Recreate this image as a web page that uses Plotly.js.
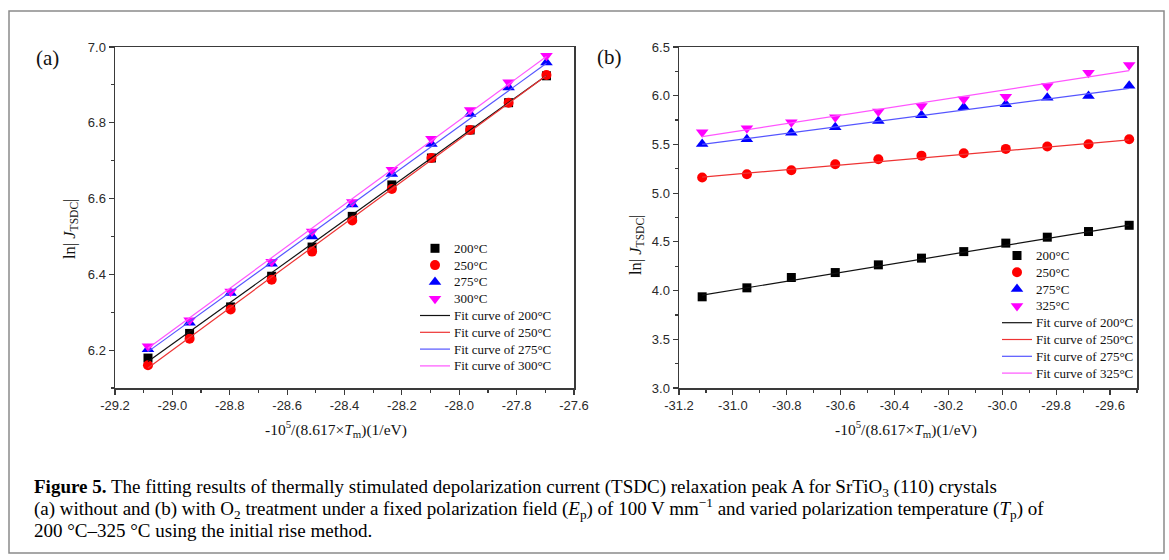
<!DOCTYPE html>
<html>
<head>
<meta charset="utf-8">
<script src="https://cdn.plot.ly/plotly-3.0.1.min.js"></script>
<style>html,body{margin:0;padding:0;background:#fff;}#chart{width:1169px;height:560px;}</style>
</head>
<body>
<div id="chart"></div>
<script>
// Panel (a): without O2 treatment
const xA = [-29.085, -28.940, -28.797, -28.654, -28.513, -28.373, -28.235, -28.097, -27.962, -27.828, -27.696];
const yA200 = [6.179, 6.244, 6.314, 6.395, 6.472, 6.553, 6.636, 6.707, 6.781, 6.853, 6.924];
const yA250 = [6.160, 6.230, 6.307, 6.386, 6.460, 6.542, 6.625, 6.707, 6.781, 6.853, 6.926];
const yA275 = [6.202, 6.272, 6.351, 6.428, 6.500, 6.584, 6.665, 6.744, 6.823, 6.893, 6.959];
const yA300 = [6.210, 6.279, 6.355, 6.433, 6.513, 6.591, 6.676, 6.758, 6.834, 6.907, 6.977];
const fitXA = [-29.085, -27.696];
const fitA200 = [6.170, 6.925];
const fitA250 = [6.153, 6.925];
const fitA275 = [6.196, 6.957];
const fitA300 = [6.205, 6.975];
const labelsA = ['200°C', '250°C', '275°C', '300°C'];

// Panel (b): with O2 treatment
const xB = [-31.114, -30.948, -30.783, -30.620, -30.460, -30.300, -30.143, -29.987, -29.833, -29.680, -29.529];
const yB200 = [3.936, 4.028, 4.134, 4.185, 4.264, 4.333, 4.400, 4.487, 4.548, 4.606, 4.670];
const yB250 = [5.160, 5.194, 5.235, 5.297, 5.348, 5.385, 5.410, 5.454, 5.478, 5.502, 5.553];
const yB275 = [5.505, 5.553, 5.621, 5.676, 5.741, 5.799, 5.882, 5.912, 5.980, 5.997, 6.103];
const yB325 = [5.625, 5.666, 5.728, 5.779, 5.837, 5.895, 5.964, 5.990, 6.100, 6.236, 6.315];
const fitXB = [-31.114, -29.529];
const fitB200 = [3.953, 4.672];
const fitB250 = [5.165, 5.546];
const fitB275 = [5.500, 6.076];
const fitB325 = [5.580, 6.257];
const labelsB = ['200°C', '250°C', '275°C', '325°C'];

// Tick labels
const xTickValsA = [-29.2, -29.0, -28.8, -28.6, -28.4, -28.2, -28.0, -27.8, -27.6];
const xTickTextA = ['-29.2', '-29.0', '-28.8', '-28.6', '-28.4', '-28.2', '-28.0', '-27.8', '-27.6'];
const yTickValsA = [6.2, 6.4, 6.6, 6.8, 7.0];
const yTickTextA = ['6.2', '6.4', '6.6', '6.8', '7.0'];
const xTickValsB = [-31.2, -31.0, -30.8, -30.6, -30.4, -30.2, -30.0, -29.8, -29.6];
const xTickTextB = ['-31.2', '-31.0', '-30.8', '-30.6', '-30.4', '-30.2', '-30.0', '-29.8', '-29.6'];
const yTickValsB = [3.0, 3.5, 4.0, 4.5, 5.0, 5.5, 6.0, 6.5];
const yTickTextB = ['3.0', '3.5', '4.0', '4.5', '5.0', '5.5', '6.0', '6.5'];

const W = 1169, H = 560;
const px = v => v / W;
const py = v => 1 - v / H;

const markerColors = ['#000000', '#ff0000', '#0000ff', '#ff00ff'];
const lineColors = ['#111111', '#ee3333', '#5555ff', '#ff55ff'];
const symbols = ['square', 'circle', 'triangle-up', 'triangle-down'];
const msizes = [9, 10, 11, 11];

function panel(xs, ys, fitX, fits, labels, xa, ya) {
  const out = [];
  ys.forEach((y, i) => {
    out.push({x: xs, y: y, type: 'scatter', mode: 'markers', name: labels[i],
      xaxis: xa, yaxis: ya, showlegend: false,
      marker: {symbol: symbols[i], color: markerColors[i], size: msizes[i], line: {width: 0}}});
  });
  fits.forEach((f, i) => {
    out.push({x: fitX, y: f, type: 'scatter', mode: 'lines', name: 'Fit curve of ' + labels[i],
      xaxis: xa, yaxis: ya, showlegend: false,
      line: {color: lineColors[i], width: 1.2}});
  });
  return out;
}

const data = [].concat(
  panel(xA, [yA200, yA250, yA275, yA300], fitXA, [fitA200, fitA250, fitA275, fitA300], labelsA, 'x', 'y'),
  panel(xB, [yB200, yB250, yB275, yB325], fitXB, [fitB200, fitB250, fitB275, fitB325], labelsB, 'x2', 'y2')
);

const tickFont = {family: 'Liberation Sans, Arial, sans-serif', size: 13, color: '#2a2a2a'};
function axis(extra) {
  return Object.assign({
    showgrid: false, zeroline: false, showline: true, mirror: true,
    linecolor: '#3a3a3a', linewidth: 1.5,
    ticks: 'outside', ticklen: 5, tickwidth: 1.2, tickcolor: '#3a3a3a',
    tickfont: tickFont, tickmode: 'array', fixedrange: true
  }, extra);
}

const yDom = [py(388), py(47)];
const serif = 'Liberation Serif, Times New Roman, serif';
const legFont = {family: serif, size: 13, color: '#111'};
const capFont = {family: serif, size: 19, color: '#000'};

// Hand-built legend (compact row spacing like the reference)
const shapes = [
  {type: 'rect', xref: 'paper', yref: 'paper', x0: px(9), x1: px(1164), y0: py(553), y1: py(11),
    line: {color: '#8a8a8a', width: 1.5}, fillcolor: 'rgba(0,0,0,0)'}
];
const annotations = [];

function symbolShape(kind, cx, cy, color) {
  if (kind === 'square') {
    const h = 4.5;
    return {type: 'rect', xref: 'paper', yref: 'paper', x0: px(cx - h), x1: px(cx + h), y0: py(cy + h), y1: py(cy - h),
      fillcolor: color, line: {width: 0}};
  }
  if (kind === 'circle') {
    const r = 5;
    return {type: 'circle', xref: 'paper', yref: 'paper', x0: px(cx - r), x1: px(cx + r), y0: py(cy + r), y1: py(cy - r),
      fillcolor: color, line: {width: 0}};
  }
  const r = 5.5, rt = r * 2 / Math.sqrt(3), r2 = r / 2;
  let pts;
  if (kind === 'triangle-up') pts = [[cx - rt, cy + r2], [cx + rt, cy + r2], [cx, cy - r]];
  else pts = [[cx - rt, cy - r2], [cx + rt, cy - r2], [cx, cy + r]];
  const path = 'M' + pts.map(p => px(p[0]) + ',' + py(p[1])).join('L') + 'Z';
  return {type: 'path', xref: 'paper', yref: 'paper', path: path, fillcolor: color, line: {width: 0}};
}

function buildLegend(labels, lineX0, symX, textX, y0, step) {
  labels.forEach((lab, i) => {
    const cy = y0 + i * step;
    shapes.push(symbolShape(symbols[i], symX, cy, markerColors[i]));
    annotations.push({text: lab, x: px(textX), y: py(cy), xref: 'paper', yref: 'paper', xanchor: 'left', yanchor: 'middle',
      showarrow: false, font: legFont});
  });
  labels.forEach((lab, i) => {
    const cy = y0 + (i + 4) * step;
    shapes.push({type: 'line', xref: 'paper', yref: 'paper', x0: px(lineX0), x1: px(lineX0 + 30), y0: py(cy), y1: py(cy),
      line: {color: lineColors[i], width: 1.2}});
    annotations.push({text: 'Fit curve of ' + lab, x: px(textX), y: py(cy), xref: 'paper', yref: 'paper', xanchor: 'left', yanchor: 'middle',
      showarrow: false, font: legFont});
  });
}
buildLegend(labelsA, 420, 435, 452, 248.3, 16.8);
buildLegend(labelsB, 1002, 1017, 1034, 255.5, 16.8);

const titleFont = {family: serif, size: 15.5, color: '#111'};
const yTitleFont = {family: serif, size: 16.5, color: '#111'};
const xTitle = '-10<sup>5</sup>/(8.617×<i>T</i><sub>m</sub>)(1/eV)';
const yTitle = 'ln|<i> J</i><sub>TSDC</sub>|';
annotations.push(
  {text: '(a)', x: px(47), y: py(58), xref: 'paper', yref: 'paper', xanchor: 'center', yanchor: 'middle', showarrow: false,
    font: {family: serif, size: 21, color: '#111'}},
  {text: '(b)', x: px(609), y: py(57), xref: 'paper', yref: 'paper', xanchor: 'center', yanchor: 'middle', showarrow: false,
    font: {family: serif, size: 21, color: '#111'}},
  {text: xTitle, x: px(336), y: py(429), xref: 'paper', yref: 'paper', xanchor: 'center', yanchor: 'middle',
    showarrow: false, font: titleFont},
  {text: xTitle, x: px(906), y: py(429), xref: 'paper', yref: 'paper', xanchor: 'center', yanchor: 'middle',
    showarrow: false, font: titleFont},
  {text: yTitle, x: px(70), y: py(229), xref: 'paper', yref: 'paper', xanchor: 'center', yanchor: 'middle', textangle: -90,
    showarrow: false, font: yTitleFont},
  {text: yTitle, x: px(636), y: py(245), xref: 'paper', yref: 'paper', xanchor: 'center', yanchor: 'middle', textangle: -90,
    showarrow: false, font: yTitleFont},
  {text: '<b>Figure 5.</b> The fitting results of thermally stimulated depolarization current (TSDC) relaxation peak A for SrTiO<sub>3</sub> (110) crystals',
    x: px(32), y: py(488), xref: 'paper', yref: 'paper', xanchor: 'left', yanchor: 'middle', showarrow: false, font: capFont},
  {text: '(a) without and (b) with O<sub>2</sub> treatment under a fixed polarization field (<i>E</i><sub>p</sub>) of 100 V mm<sup>−1</sup> and varied polarization temperature (<i>T</i><sub>p</sub>) of',
    x: px(32), y: py(508), xref: 'paper', yref: 'paper', xanchor: 'left', yanchor: 'middle', showarrow: false, font: capFont},
  {text: '200 °C–325 °C using the initial rise method.',
    x: px(32), y: py(530), xref: 'paper', yref: 'paper', xanchor: 'left', yanchor: 'middle', showarrow: false, font: capFont}
);

const layout = {
  width: W, height: H,
  margin: {l: 0, r: 0, t: 0, b: 0},
  paper_bgcolor: '#ffffff', plot_bgcolor: '#ffffff',
  showlegend: false,
  xaxis: axis({domain: [px(115), px(574)], range: [-29.2, -27.6], tickvals: xTickValsA, ticktext: xTickTextA,
    minor: {tickmode: 'linear', tick0: -29.2, dtick: 0.1, ticks: 'outside', ticklen: 3, tickcolor: '#3a3a3a'}, anchor: 'y'}),
  yaxis: axis({domain: yDom, range: [6.1, 7.0], tickvals: yTickValsA, ticktext: yTickTextA,
    minor: {tickmode: 'linear', tick0: 6.1, dtick: 0.1, ticks: 'outside', ticklen: 3, tickcolor: '#3a3a3a'}, anchor: 'x'}),
  xaxis2: axis({domain: [px(679), px(1137)], range: [-31.2, -29.5], tickvals: xTickValsB, ticktext: xTickTextB,
    minor: {tickmode: 'linear', tick0: -31.2, dtick: 0.1, ticks: 'outside', ticklen: 3, tickcolor: '#3a3a3a'}, anchor: 'y2'}),
  yaxis2: axis({domain: yDom, range: [3.0, 6.5], tickvals: yTickValsB, ticktext: yTickTextB,
    minor: {tickmode: 'linear', tick0: 3.0, dtick: 0.25, ticks: 'outside', ticklen: 3, tickcolor: '#3a3a3a'}, anchor: 'x2'}),
  shapes: shapes,
  annotations: annotations
};

Plotly.newPlot('chart', data, layout, {displayModeBar: false, staticPlot: true});
</script>
</body>
</html>
